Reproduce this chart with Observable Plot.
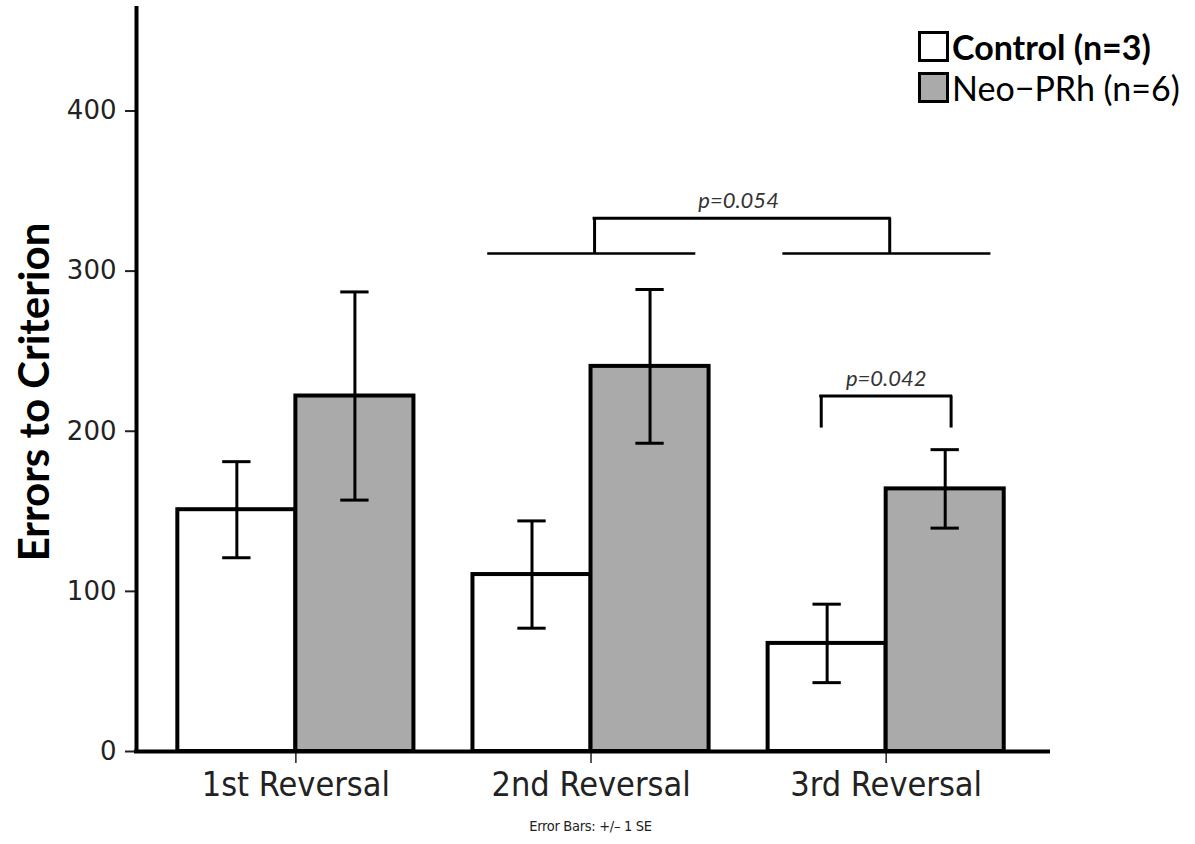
<!DOCTYPE html>
<html><head><meta charset="utf-8">
<script src="https://cdn.jsdelivr.net/npm/d3@7"></script>
<script src="https://cdn.jsdelivr.net/npm/@observablehq/plot@0.6"></script>
<style>
body{margin:0;background:#fff;}
#wrap{position:relative;width:1195px;height:844px;overflow:hidden;background:#fff;}
#legend{position:absolute;left:918px;top:26px;}
.item{display:flex;align-items:center;height:41px;}
.sw{width:25px;height:25px;border:3px solid #000;margin-right:3px;flex:none;}
.lab{font-family:Lato,"Open Sans",sans-serif;font-size:34px;color:#000;line-height:1;white-space:nowrap;}
#caption{position:absolute;left:0;width:1181px;text-align:center;top:818px;font-family:"DejaVu Sans Condensed","DejaVu Sans",sans-serif;font-size:14.5px;letter-spacing:-0.3px;color:#222;}
</style></head>
<body><div id="wrap"><div id="chart"></div><div id="legend"></div><div id="caption"></div></div>
<script>
// ---- data ----
const categories = ["1st Reversal", "2nd Reversal", "3rd Reversal"];
const groups = ["Control (n=3)", "Neo-PRh (n=6)"];
const controlMean = [151, 110.5, 67.5];
const controlSE = [30, 33.5, 24.5];
const neoMean = [222, 240.5, 164];
const neoSE = [65, 48, 24.5];
const yTicks = [0, 100, 200, 300, 400];
const captionText = "Error Bars: +/\u2013 1 SE";
const yLabel = "Errors to Criterion";
// significance annotations (y in data units)
const groupBracket = {label: "p=0.054", from: "2nd Reversal", to: "3rd Reversal", base: 311, top: 333};
const pairBracket = {label: "p=0.042", at: "3rd Reversal", base: 202, top: 222};

// ---- layout constants ----
const half = 0.4, cap = 0.048;
const idx = c => categories.indexOf(c);
const rows = categories.flatMap((c, i) => [
  {cat: c, i, group: groups[0], side: -1, mean: controlMean[i], se: controlSE[i]},
  {cat: c, i, group: groups[1], side: 1, mean: neoMean[i], se: neoSE[i]}
]);
const cx = d => d.i + d.side * half / 2;
const gFrom = idx(groupBracket.from), gTo = idx(groupBracket.to), pAt = idx(pairBracket.at);

const chart = Plot.plot({
  width: 1195, height: 810,
  marginTop: 8, marginBottom: 59, marginLeft: 136, marginRight: 147,
  x: {domain: [-0.54, 2.55], axis: null},
  y: {domain: [0, 464], axis: null},
  color: {domain: groups, range: ["#ffffff", "#aaaaaa"]},
  style: {fontFamily: "DejaVu Sans", background: "white", color: "#000"},
  marks: [
    Plot.rectY(rows, {x1: d => d.side < 0 ? d.i - half : d.i, x2: d => d.side < 0 ? d.i : d.i + half,
      y1: 0, y2: "mean", fill: "group", stroke: "#000", strokeWidth: 4}),
    Plot.ruleX(rows, {x: cx, y1: d => d.mean - d.se, y2: d => d.mean + d.se, stroke: "#000", strokeWidth: 3}),
    Plot.ruleY(rows, {y: d => d.mean + d.se, x1: d => cx(d) - cap, x2: d => cx(d) + cap, stroke: "#000", strokeWidth: 3}),
    Plot.ruleY(rows, {y: d => d.mean - d.se, x1: d => cx(d) - cap, x2: d => cx(d) + cap, stroke: "#000", strokeWidth: 3}),
    // group bracket p=0.054
    Plot.ruleY([gFrom, gTo], {y: groupBracket.base, x1: i => i - 0.35, x2: i => i + 0.355, stroke: "#000", strokeWidth: 2.5}),
    Plot.ruleX([gFrom, gTo], {x: i => i + 0.012, y1: groupBracket.base, y2: groupBracket.top, stroke: "#000", strokeWidth: 3}),
    Plot.ruleY([groupBracket], {y: "top", x1: gFrom + 0.012, x2: gTo + 0.012, stroke: "#000", strokeWidth: 3, strokeLinecap: "square"}),
    Plot.text([groupBracket], {x: (gFrom + gTo) / 2, y: "top", text: "label", dy: -17, fontSize: 22, fontStyle: "italic", fontFamily: "Lato", fill: "#333"}),
    // pair bracket p=0.042
    Plot.ruleX([-1, 1], {x: s => pAt + s * 0.22, y1: pairBracket.base, y2: pairBracket.top, stroke: "#000", strokeWidth: 3}),
    Plot.ruleY([pairBracket], {y: "top", x1: pAt - 0.22, x2: pAt + 0.22, stroke: "#000", strokeWidth: 3, strokeLinecap: "square"}),
    Plot.text([pairBracket], {x: pAt, y: "top", text: "label", dy: -17, fontSize: 22, fontStyle: "italic", fontFamily: "Lato", fill: "#333"}),
    // axes
    Plot.axisY({ticks: yTicks, label: null, tickSize: 11, tickPadding: 9, fontSize: 26, color: "#222", strokeWidth: 2}),
    Plot.axisX({ticks: [0, 1, 2], tickFormat: i => categories[i], label: null, tickSize: 12, tickPadding: 8,
      fontSize: 34, fontFamily: "DejaVu Sans Condensed, DejaVu Sans", color: "#222", strokeWidth: 1.5}),
    Plot.ruleX([-0.54], {stroke: "#000", strokeWidth: 4, strokeLinecap: "square"}),
    Plot.ruleY([0], {stroke: "#000", strokeWidth: 4, strokeLinecap: "square"}),
    Plot.text([yLabel], {frameAnchor: "left", textAnchor: "middle", dx: -101, dy: 12, rotate: -90, fontSize: 42, fontWeight: "bold", fontFamily: "Lato", fill: "#000"})
  ]
});
document.getElementById("chart").appendChild(chart);

// legend
const legend = d3.select("#legend");
const scale = chart.scale("color");
groups.forEach((g, k) => {
  const it = legend.append("div").attr("class", "item");
  it.append("div").attr("class", "sw").style("background", scale.apply(g));
  it.append("div").attr("class", "lab").style("font-weight", k === 0 ? "bold" : "normal")
    .text(k === 0 ? g : g.replace("-", "\u2212"));
});
document.getElementById("caption").textContent = captionText;
</script>
</body></html>
